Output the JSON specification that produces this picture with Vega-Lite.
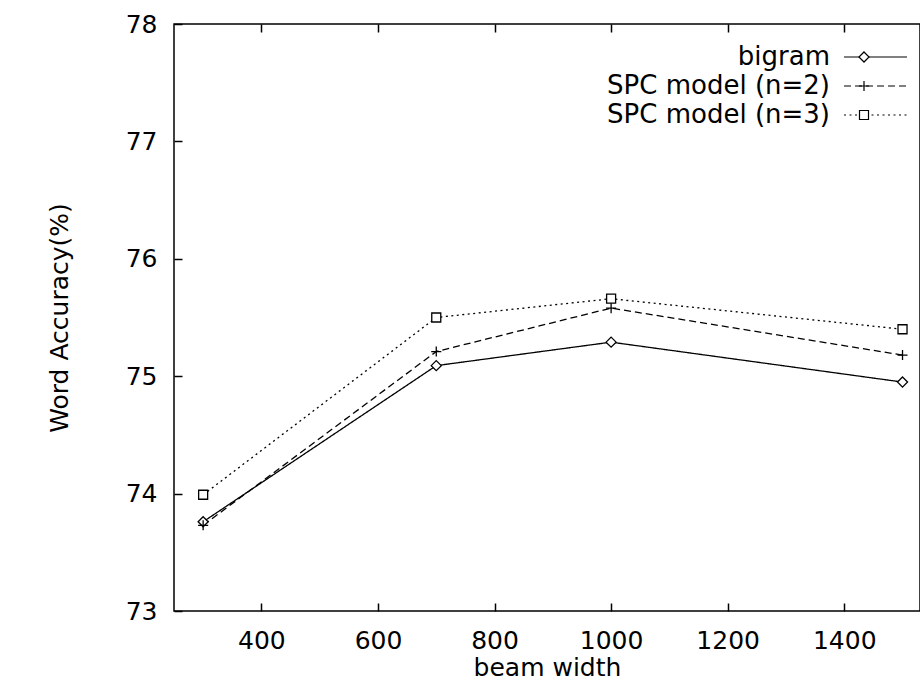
{
  "$schema": "https://vega.github.io/schema/vega-lite/v6.json",
  "width": 746,
  "height": 587,
  "autosize": {"type": "none"},
  "padding": {"left": 174, "top": 24, "right": 0, "bottom": 73},
  "background": "white",
  "config": {
    "font": "DejaVu Sans",
    "view": {"stroke": "black", "strokeWidth": 1.5},
    "axis": {
      "domain": false,
      "grid": false,
      "ticks": true,
      "tickColor": "black",
      "tickSize": -8,
      "tickWidth": 1.5,
      "labelColor": "black",
      "titleColor": "black",
      "labelFontSize": 25,
      "titleFontSize": 25,
      "titleFontWeight": "normal",
      "labelFont": "DejaVu Sans",
      "titleFont": "DejaVu Sans"
    }
  },
  "data": {
    "values": [
      {"model": "bigram", "beam": 300, "acc": 73.76},
      {"model": "bigram", "beam": 700, "acc": 75.09},
      {"model": "bigram", "beam": 1000, "acc": 75.29},
      {"model": "bigram", "beam": 1500, "acc": 74.95},
      {"model": "SPC model (n=2)", "beam": 300, "acc": 73.73},
      {"model": "SPC model (n=2)", "beam": 700, "acc": 75.21},
      {"model": "SPC model (n=2)", "beam": 1000, "acc": 75.58},
      {"model": "SPC model (n=2)", "beam": 1500, "acc": 75.18},
      {"model": "SPC model (n=3)", "beam": 300, "acc": 73.99},
      {"model": "SPC model (n=3)", "beam": 700, "acc": 75.5},
      {"model": "SPC model (n=3)", "beam": 1000, "acc": 75.66},
      {"model": "SPC model (n=3)", "beam": 1500, "acc": 75.4}
    ]
  },
  "layer": [
    {
      "mark": {"type": "line", "stroke": "black", "strokeWidth": 1.3},
      "encoding": {
        "x": {
          "field": "beam",
          "type": "quantitative",
          "scale": {"domain": [250, 1530], "nice": false, "zero": false},
          "axis": {"title": "beam width", "values": [400, 600, 800, 1000, 1200, 1400], "format": "d", "labelPadding": 25, "titlePadding": 2}
        },
        "y": {
          "field": "acc",
          "type": "quantitative",
          "scale": {"domain": [73, 78], "nice": false, "zero": false},
          "axis": {"title": "Word Accuracy(%)", "values": [73, 74, 75, 76, 77, 78], "labelPadding": 25, "titlePadding": 53}
        },
        "strokeDash": {
          "field": "model",
          "type": "nominal",
          "sort": ["bigram", "SPC model (n=2)", "SPC model (n=3)"],
          "scale": {"range": [[1, 0], [7, 4], [2, 3.5]]},
          "legend": {
            "title": null,
            "orient": "none",
            "legendX": 677,
            "legendY": 20,
            "symbolType": "M-2.22,0L4.78,0",
            "symbolSize": 324,
            "symbolStrokeColor": "black",
            "symbolStrokeWidth": 1.2,
            "labelFont": "DejaVu Sans",
            "labelFontSize": 26,
            "labelColor": "black",
            "labelAlign": "right",
            "labelOffset": -47,
            "labelLimit": 400,
            "rowPadding": 3
          }
        }
      }
    },
    {
      "mark": {"type": "point", "filled": true, "fill": "white", "stroke": "black", "strokeWidth": 1.3, "size": 324, "opacity": 1},
      "encoding": {
        "x": {
          "field": "beam",
          "type": "quantitative",
          "axis": {"orient": "top", "labels": false, "title": null, "values": [400, 600, 800, 1000, 1200, 1400]}
        },
        "y": {
          "field": "acc",
          "type": "quantitative",
          "axis": {"title": "Word Accuracy(%)", "values": [73, 74, 75, 76, 77, 78], "labelPadding": 25, "titlePadding": 53}
        },
        "shape": {
          "field": "model",
          "type": "nominal",
          "scale": {
            "domain": ["bigram", "SPC model (n=2)", "SPC model (n=3)"],
            "range": ["M0,-0.56L0.56,0L0,0.56L-0.56,0Z", "M-0.56,0L0.56,0M0,-0.56L0,0.56", "M-0.5,-0.5L0.5,-0.5L0.5,0.5L-0.5,0.5Z"]
          },
          "legend": {
            "title": null,
            "orient": "none",
            "legendX": 677,
            "legendY": 20,
            "symbolSize": 324,
            "symbolStrokeWidth": 1.2,
            "labelFont": "DejaVu Sans",
            "labelFontSize": 26,
            "labelColor": "transparent",
            "labelAlign": "right",
            "labelOffset": -47,
            "labelLimit": 400,
            "rowPadding": 3
          }
        }
      }
    }
  ],
  "resolve": {"axis": {"x": "independent"}, "legend": {"shape": "independent", "strokeDash": "independent"}}
}
